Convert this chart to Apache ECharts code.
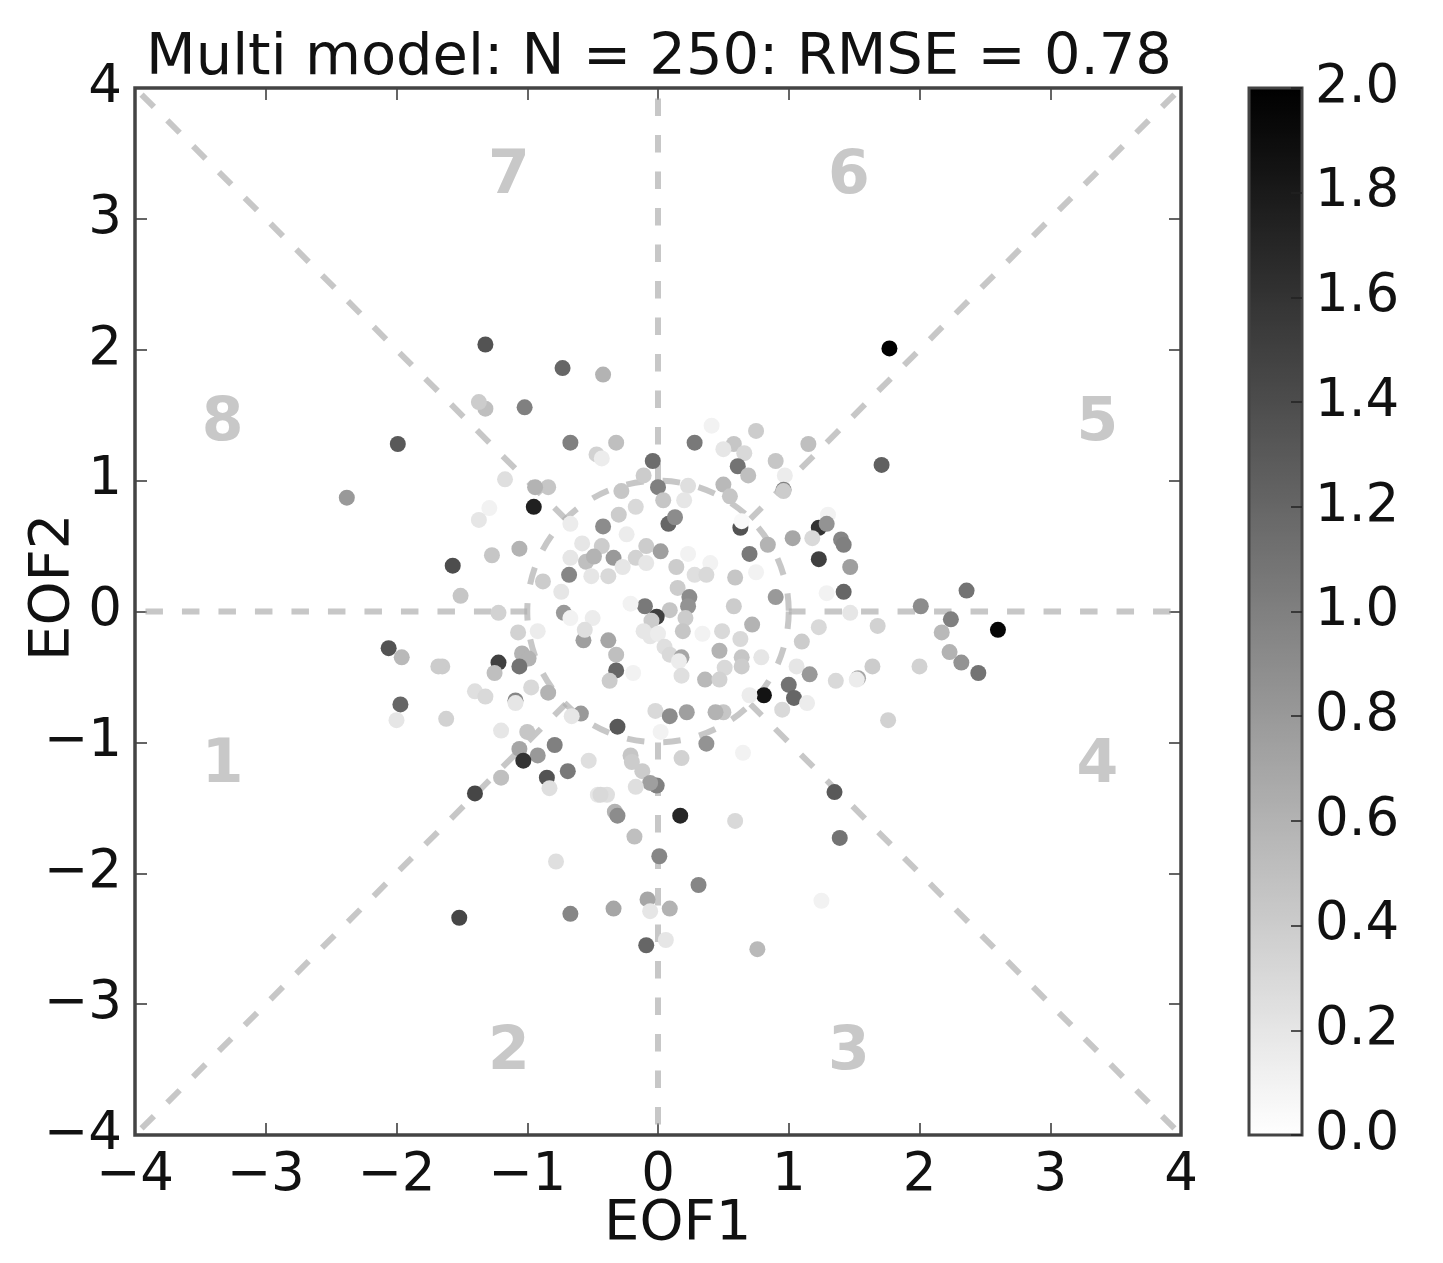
<!DOCTYPE html>
<html>
<head>
<meta charset="utf-8">
<title>Multi model</title>
<script src="https://cdn.jsdelivr.net/npm/echarts@6/dist/echarts.min.js"></script>
<style>
  html, body { margin: 0; padding: 0; background: #fff; }
  #chart { width: 1443px; height: 1263px; }
</style>
</head>
<body>
<div id="chart"></div>
<script>
// values, same order in all three lists
const eof1 = [
  -1.02, -1.32, -1.37, -0.67, -0.32, -0.47, -0.43, -0.04, 0.28, 0.41,
  0.75, 0.58, 0.50, 0.66, 0.90, 1.15, 0.61, 0.69, 0.97, 0.96,
  0.96, -1.17, -0.84, -0.94, -0.11, 0.00, -0.28, 0.04, 0.23, 0.20,
  0.50, 0.55, -0.95, -1.29, -1.37, -0.67, -0.30, -0.17, 0.08, 0.13,
  -0.42, -0.24, 0.63, 0.64, 1.30, 1.23, 1.29, 1.03, 1.18, 1.40,
  1.42, 0.84, -0.58, -0.43, -1.06, -1.27, -0.09, 0.02, 0.70, 0.23,
  1.23, 1.47, -0.55, -0.49, -0.34, -0.67, -0.17, -0.09, -0.27, 0.14,
  0.40, -1.57, -0.68, -0.51, -0.38, -0.88, 0.28, 0.37, 0.59, 0.75,
  -0.74, 0.15, -1.51, 0.24, 0.23, 0.90, 1.42, 1.29, -0.10, -0.21,
  0.09, 0.58, -0.72, -0.67, -0.01, -0.05, -0.50, -1.22, 1.47, 0.21,
  0.72, 1.23, -1.07, -0.92, -0.11, -0.06, 0.00, 0.19, 0.34, 0.49,
  0.63, -0.57, -0.38, -0.56, 1.10, 0.05, 0.47, -1.04, -0.99, -0.32,
  0.09, 0.18, 0.16, 0.64, 0.64, 0.79, -1.22, -1.06, -1.25, -1.65,
  -0.32, -0.37, -0.19, 0.51, 0.18, 1.06, 0.36, 0.47, 1.16, 1.00,
  1.36, 1.53, 1.52, -1.40, -1.32, -0.97, -1.09, -1.09, -0.84, 0.81,
  0.70, 1.04, 1.14, 0.95, -0.59, -0.66, -0.02, 0.09, 0.22, 0.50,
  0.44, -1.62, -0.31, -1.20, -1.00, 0.02, 0.37, -0.79, -1.06, -0.92,
  -1.03, -0.53, -0.21, -0.20, 0.18, 0.65, -0.69, -0.12, -1.20, -0.85,
  -0.01, -0.06, -0.17, -0.83, -0.46, -0.39, -1.40, 1.35,
  1.77, -1.32, -0.73, -0.42, -1.99, -2.38, 1.71, 2.60, 2.36, 2.01,
  2.24, 2.17, 2.23, 2.32, 2.45, 1.68, 1.64, 2.00, 1.76, -2.06,
  -1.96, -1.68, -1.97, -2.00, 1.39, 1.25, 0.59, 0.01, 0.17, -0.33,
  -0.31, -0.44, -0.18, -0.78, -1.52, -0.67, -0.34, -0.08, -0.06, 0.09,
  0.31, -0.09, 0.06, 0.76
];
const eof2 = [
  1.56, 1.55, 1.60, 1.29, 1.29, 1.20, 1.17, 1.15, 1.29, 1.42,
  1.38, 1.28, 1.24, 1.21, 1.15, 1.28, 1.11, 1.04, 1.04, 0.93,
  0.92, 1.01, 0.95, 0.95, 1.04, 0.95, 0.92, 0.85, 0.96, 0.85,
  0.97, 0.88, 0.80, 0.79, 0.70, 0.67, 0.74, 0.80, 0.67, 0.72,
  0.65, 0.59, 0.64, 0.69, 0.74, 0.64, 0.67, 0.56, 0.56, 0.55,
  0.51, 0.51, 0.52, 0.50, 0.48, 0.43, 0.50, 0.46, 0.44, 0.44,
  0.40, 0.34, 0.38, 0.42, 0.41, 0.41, 0.41, 0.37, 0.34, 0.34,
  0.37, 0.35, 0.28, 0.27, 0.27, 0.23, 0.28, 0.28, 0.26, 0.30,
  0.15, 0.18, 0.12, 0.11, 0.04, 0.11, 0.15, 0.14, 0.04, 0.06,
  0.01, 0.04, -0.01, -0.05, -0.04, -0.07, -0.05, -0.01, -0.01, -0.05,
  -0.10, -0.12, -0.16, -0.15, -0.15, -0.19, -0.17, -0.15, -0.17, -0.15,
  -0.21, -0.22, -0.22, -0.14, -0.23, -0.27, -0.30, -0.32, -0.36, -0.33,
  -0.33, -0.35, -0.38, -0.35, -0.42, -0.35, -0.39, -0.42, -0.47, -0.42,
  -0.45, -0.53, -0.47, -0.43, -0.49, -0.42, -0.52, -0.52, -0.48, -0.56,
  -0.53, -0.51, -0.52, -0.61, -0.65, -0.58, -0.68, -0.70, -0.62, -0.64,
  -0.64, -0.66, -0.70, -0.75, -0.78, -0.80, -0.76, -0.80, -0.77, -0.77,
  -0.77, -0.82, -0.88, -0.91, -0.92, -0.92, -1.01, -1.02, -1.05, -1.10,
  -1.14, -1.14, -1.10, -1.15, -1.12, -1.08, -1.22, -1.22, -1.27, -1.27,
  -1.33, -1.31, -1.34, -1.35, -1.40, -1.40, -1.39, -1.38,
  2.01, 2.04, 1.86, 1.81, 1.28, 0.87, 1.12, -0.14, 0.16, 0.04,
  -0.06, -0.16, -0.31, -0.39, -0.47, -0.11, -0.42, -0.42, -0.83, -0.28,
  -0.35, -0.42, -0.71, -0.83, -1.73, -2.21, -1.60, -1.87, -1.56, -1.53,
  -1.56, -1.40, -1.72, -1.91, -2.34, -2.31, -2.27, -2.20, -2.29, -2.27,
  -2.09, -2.55, -2.51, -2.58
];
const rmseValues = [
  1.00, 0.50, 0.40, 1.00, 0.50, 0.35, 0.15, 1.15, 1.05, 0.10,
  0.40, 0.45, 0.20, 0.30, 0.45, 0.50, 1.10, 0.50, 0.15, 1.00,
  0.40, 0.25, 0.45, 0.60, 0.40, 1.00, 0.45, 0.45, 0.25, 0.20,
  0.55, 0.45, 1.75, 0.10, 0.20, 0.15, 0.40, 0.30, 1.20, 0.90,
  0.90, 0.15, 1.35, 0.05, 0.10, 1.60, 0.85, 0.70, 0.30, 0.95,
  1.00, 0.60, 0.20, 0.40, 0.60, 0.45, 0.40, 0.75, 1.05, 0.10,
  1.50, 0.75, 0.50, 0.60, 0.80, 0.20, 0.35, 0.20, 0.20, 0.40,
  0.10, 1.40, 0.95, 0.20, 0.30, 0.40, 0.25, 0.30, 0.45, 0.10,
  0.20, 0.40, 0.45, 0.90, 0.85, 0.80, 1.20, 0.10, 1.05, 0.10,
  0.45, 0.40, 0.80, 0.10, 1.50, 0.40, 0.15, 0.35, 0.20, 0.40,
  0.60, 0.30, 0.35, 0.15, 0.20, 0.20, 0.15, 0.45, 0.10, 0.30,
  0.30, 0.75, 0.70, 0.25, 0.40, 0.25, 0.60, 0.60, 0.60, 0.50,
  0.30, 0.70, 0.15, 0.45, 0.40, 0.20, 1.50, 1.10, 0.50, 0.40,
  1.20, 0.40, 0.10, 0.30, 0.25, 0.20, 0.55, 0.35, 0.80, 1.10,
  0.30, 0.70, 0.15, 0.25, 0.30, 0.30, 0.95, 0.20, 0.60, 1.85,
  0.15, 1.20, 0.15, 0.30, 0.80, 0.20, 0.30, 0.90, 0.75, 0.45,
  0.60, 0.35, 1.30, 0.20, 0.45, 0.10, 0.85, 1.00, 0.70, 0.80,
  1.60, 0.25, 0.45, 0.40, 0.35, 0.10, 1.05, 0.40, 0.50, 1.35,
  1.00, 0.75, 0.25, 0.25, 0.20, 0.25, 1.45, 1.30,
  2.00, 1.35, 1.20, 0.60, 1.30, 0.80, 1.25, 1.95, 1.10, 0.90,
  1.00, 0.55, 0.60, 0.85, 1.10, 0.35, 0.40, 0.35, 0.35, 1.35,
  0.55, 0.40, 1.20, 0.20, 1.10, 0.10, 0.30, 0.95, 1.70, 0.60,
  0.90, 0.30, 0.50, 0.25, 1.45, 0.95, 0.70, 0.70, 0.20, 0.60,
  0.95, 1.20, 0.20, 0.55
];

// phase numbers in the eight sectors
const phaseLabels = ['1', '2', '3', '4', '5', '6', '7', '8'];
const phaseX = [-3.33, -1.14, 1.46, 3.36, 3.36, 1.46, -1.14, -3.33];
const phaseY = [-1.18, -3.38, -3.38, -1.18, 1.43, 3.32, 3.32, 1.43];

// dashed spokes, from just inside the plot edge in to the unit circle
const spokes = [
  [[-3.92, 0], [-1, 0]],
  [[3.92, 0], [1, 0]],
  [[0, 3.92], [0, 1]],
  [[0, -3.92], [0, -1]],
  [[-3.95, 3.95], [-0.707, 0.707]],
  [[3.95, 3.95], [0.707, 0.707]],
  [[-3.95, -3.95], [-0.707, -0.707]],
  [[3.95, -3.95], [0.707, -0.707]]
];
const circleRadius = 1;

const axisTicks = [-4, -3, -2, -1, 0, 1, 2, 3, 4];
const barTicks = [0, 0.2, 0.4, 0.6, 0.8, 1.0, 1.2, 1.4, 1.6, 1.8, 2.0];

const FONT = '"DejaVu Sans"';
const DASH_COLOR = 'rgba(175,175,175,0.7)';
const DASH = [17.5, 19];
const SPINE = '#444';

const points = eof1.map((x, i) => [x, eof2[i], rmseValues[i]]);
const minus = v => String(v).replace('-', '\u2212');

const plotAxis = (extra) => Object.assign({
  type: 'value',
  gridIndex: 0,
  min: axisTicks[0],
  max: axisTicks[axisTicks.length - 1],
  interval: 1,
  splitLine: { show: false },
  axisLine: { show: false, onZero: false },
  axisTick: { inside: true, length: 12, lineStyle: { color: '#333', width: 1.5 } }
}, extra);

const tickLabels = {
  fontFamily: FONT, fontSize: 53, color: '#111', margin: 13, formatter: minus
};

const spokeSeries = spokes.map(seg => ({
  type: 'line',
  xAxisIndex: 0,
  yAxisIndex: 0,
  data: seg,
  symbol: 'none',
  silent: true,
  z: 2,
  lineStyle: { color: DASH_COLOR, width: 6, type: DASH }
}));

const chart = echarts.init(document.getElementById('chart'));
chart.setOption({
  animation: false,
  backgroundColor: '#fff',
  title: {
    text: 'Multi model: N = 250: RMSE = 0.78',
    left: 654,
    top: 25,
    textAlign: 'center',
    textStyle: { fontFamily: FONT, fontSize: 57.5, fontWeight: 'normal', color: '#111' }
  },
  grid: [
    { left: 135, top: 88, width: 1046, height: 1047, show: true, borderColor: SPINE, borderWidth: 3.5, backgroundColor: 'transparent', z: 6 },
    { left: 1249, top: 88, width: 53, height: 1047, show: true, borderColor: SPINE, borderWidth: 3, backgroundColor: 'transparent', z: 6 }
  ],
  xAxis: [
    plotAxis({ position: 'bottom', axisLabel: Object.assign({}, tickLabels, { margin: 15 }) }),
    plotAxis({ position: 'top', axisLabel: { show: false } }),
    { type: 'value', gridIndex: 1, min: 0, max: 1, show: false }
  ],
  yAxis: [
    plotAxis({ position: 'left', axisLabel: tickLabels }),
    plotAxis({ position: 'right', axisLabel: { show: false } }),
    {
      type: 'value',
      gridIndex: 1,
      position: 'right',
      min: barTicks[0],
      max: barTicks[barTicks.length - 1],
      interval: 0.2,
      splitLine: { show: false },
      axisLine: { show: false, onZero: false },
      axisTick: { inside: true, length: 11, lineStyle: { color: '#222', width: 1.5 } },
      axisLabel: { fontFamily: FONT, fontSize: 53, color: '#111', margin: 13, formatter: v => v.toFixed(1) },
      z: 7
    }
  ],
  visualMap: {
    type: 'continuous',
    min: 0,
    max: 2,
    dimension: 2,
    seriesIndex: spokes.length + 1,
    inRange: { color: ['#ffffff', '#000000'] },
    left: 1249,
    top: 88,
    padding: 0,
    itemWidth: 53,
    itemHeight: 1047,
    showLabel: false,
    calculable: false,
    hoverLink: false,
    z: 1
  },
  graphic: [
    { type: 'text', left: 604, top: 1196, style: { text: 'EOF1', font: '56px ' + FONT, fill: '#111' } },
    { type: 'text', x: 25, y: 661, rotation: Math.PI / 2, style: { text: 'EOF2', font: '56px ' + FONT, fill: '#111' } }
  ],
  series: [
    ...spokeSeries,
    {
      // unit circle, sized by the axis scale
      type: 'custom',
      xAxisIndex: 0,
      yAxisIndex: 0,
      silent: true,
      z: 2,
      data: [[0, 0]],
      renderItem: (params, api) => {
        const c = api.coord([api.value(0), api.value(1)]);
        const r = api.size([circleRadius, circleRadius])[0];
        return {
          type: 'circle',
          shape: { cx: c[0], cy: c[1], r },
          style: { fill: 'none', stroke: DASH_COLOR, lineWidth: 6, lineDash: DASH }
        };
      }
    },
    {
      type: 'scatter',
      xAxisIndex: 0,
      yAxisIndex: 0,
      data: points,
      symbolSize: 16,
      itemStyle: { opacity: 1 },
      z: 3
    },
    {
      type: 'scatter',
      xAxisIndex: 0,
      yAxisIndex: 0,
      symbolSize: 0,
      silent: true,
      z: 1,
      itemStyle: { opacity: 1 },
      data: phaseLabels.map((t, i) => ({ value: [phaseX[i], phaseY[i]], name: t })),
      label: {
        show: true,
        position: 'inside',
        formatter: '{b}',
        fontFamily: FONT,
        fontSize: 60,
        fontWeight: 'bold',
        color: '#c8c8c8'
      }
    }
  ]
});
</script>
</body>
</html>
